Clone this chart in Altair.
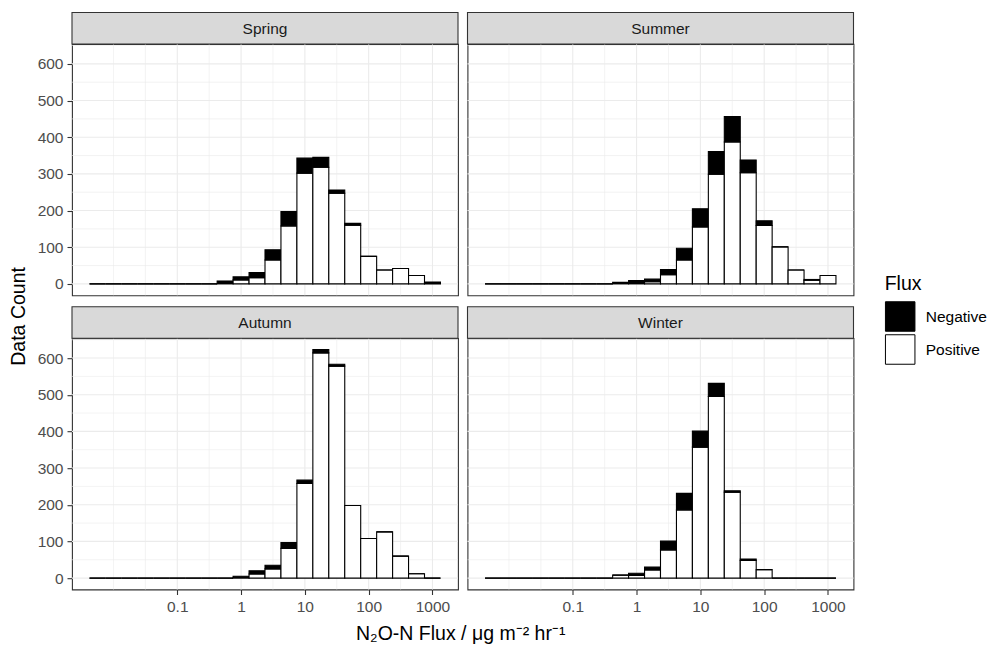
import altair as alt
import pandas as pd

# ---------------- data ----------------
seasons = ["Spring", "Summer", "Autumn", "Winter"]
flux_types = ["Negative", "Positive"]

# histogram bins: centres in log10(|flux|), bin width 0.25 decades
bin_centers_log10 = [-2.25, -2.0, -1.75, -1.5, -1.25, -1.0, -0.75, -0.5, -0.25, 0.0, 0.25,
                     0.5, 0.75, 1.0, 1.25, 1.5, 1.75, 2.0, 2.25, 2.5, 2.75, 3.0]
bin_width_log10 = 0.25

spring_pos = [0, 0, 0, 0, 0, 0, 0, 0, 1, 11, 17, 65, 158, 302, 318, 247, 160, 75, 38, 42, 23, 3]
spring_neg = [0, 0, 0, 0, 0, 0, 0, 0, 7, 8, 14, 28, 39, 41, 27, 9, 5, 0, 0, 0, 0, 2]
summer_pos = [0, 0, 0, 0, 0, 0, 0, 0, 1, 2, 6, 25, 65, 155, 299, 387, 303, 159, 101, 38, 10, 23]
summer_neg = [0, 0, 0, 0, 0, 0, 0, 0, 3, 7, 7, 14, 32, 50, 62, 69, 35, 13, 0, 0, 2, 0]
autumn_pos = [0, 0, 0, 0, 0, 0, 0, 0, 0, 1, 11, 25, 81, 258, 614, 578, 198, 108, 126, 60, 12, 0]
autumn_neg = [0, 0, 0, 0, 0, 0, 0, 0, 0, 4, 9, 10, 16, 9, 9, 5, 0, 0, 0, 0, 0, 0]
winter_pos = [0, 0, 0, 0, 0, 0, 0, 0, 8, 7, 22, 77, 186, 357, 495, 234, 48, 23, 0, 0, 0, 0]
winter_neg = [0, 0, 0, 0, 0, 0, 0, 0, 0, 6, 8, 24, 45, 44, 36, 4, 4, 0, 0, 0, 0, 0]

x_tick_values = [0.1, 1, 10, 100, 1000]
x_minor_grid = [0.01, 0.0316228, 0.316228, 3.16228, 31.6228, 316.228]
y_tick_values = [0, 100, 200, 300, 400, 500, 600]
y_minor_grid = [50, 150, 250, 350, 450, 550, 650]

x_title = "N\u2082O-N Flux / \u03bcg m\u207b\u00b2 hr\u207b\u00b9"
y_title = "Data Count"

# ---------------- layout constants ----------------
W = 386
H = 251.3
SH = 31.5
FONT = "Liberation Sans"
SMALL = 15.5
BIG = 19.5
OX, OY = 71.3, 43.5   # page position of the first panel's plot area

xscale = alt.Scale(type="log", domain=[10 ** -2.65, 10 ** 3.4], nice=False)
yscale = alt.Scale(domain=[-31.15, 654.15], nice=False, zero=False)

legend = alt.Legend(
    title="Flux", orient="none", legendX=884 - OX, legendY=274 - OY,
    symbolType="square", symbolSize=870, symbolStrokeColor="black",
    symbolStrokeWidth=1, labelFontSize=SMALL, titleFontSize=BIG,
    labelColor="black", titleColor="black", labelOffset=10, rowPadding=-3.5,
    titlePadding=7, padding=0, labelFont=FONT, titleFont=FONT, titleFontWeight="normal",
)
fill_scale = alt.Scale(domain=flux_types, range=["black", "white"])


def make_table(pos, neg):
    rows = []
    for c, p, n in zip(bin_centers_log10, pos, neg):
        lo = 10 ** (c - bin_width_log10 / 2)
        hi = 10 ** (c + bin_width_log10 / 2)
        rows.append({"x0": lo, "x1": hi, "y0": 0, "y1": p, "Flux": "Positive"})
        rows.append({"x0": lo, "x1": hi, "y0": p, "y1": p + n, "Flux": "Negative"})
    return pd.DataFrame(rows)


def panel(label, pos, neg, show_x, show_y, extra=None, anchor=False):
    xaxis = alt.Axis(values=x_tick_values, format="~g", title=None, grid=False,
                     tickSize=5, labelPadding=5) if show_x else None
    yaxis = alt.Axis(values=y_tick_values, title=None, grid=False,
                     tickSize=5, labelPadding=4) if show_y else None
    vmaj = alt.Chart(pd.DataFrame({"v": x_tick_values})).mark_rule(
        color="#EBEBEB", strokeWidth=1.1).encode(x=alt.X("v:Q", scale=xscale, axis=xaxis))
    vmin = alt.Chart(pd.DataFrame({"v": x_minor_grid})).mark_rule(
        color="#EBEBEB", strokeWidth=0.6).encode(x=alt.X("v:Q", scale=xscale, axis=xaxis))
    hmaj = alt.Chart(pd.DataFrame({"v": y_tick_values})).mark_rule(
        color="#EBEBEB", strokeWidth=1.1).encode(y=alt.Y("v:Q", scale=yscale, axis=yaxis))
    hmin = alt.Chart(pd.DataFrame({"v": y_minor_grid})).mark_rule(
        color="#EBEBEB", strokeWidth=0.6).encode(y=alt.Y("v:Q", scale=yscale, axis=yaxis))
    bars = alt.Chart(make_table(pos, neg)).mark_rect(stroke="black", strokeWidth=1.1).encode(
        x=alt.X("x0:Q", scale=xscale, axis=xaxis),
        x2="x1:Q",
        y=alt.Y("y0:Q", scale=yscale, axis=yaxis),
        y2="y1:Q",
        fill=alt.Fill("Flux:N", scale=fill_scale, legend=legend),
    )
    sdf = pd.DataFrame({"label": [label]})
    strip_box = alt.Chart(sdf).mark_rect(fill="#D9D9D9", stroke="#333333", strokeWidth=1.1).encode(
        x=alt.value(0), x2=alt.value(W), y=alt.value(-SH), y2=alt.value(0))
    strip_txt = alt.Chart(sdf).mark_text(fontSize=SMALL, color="#1A1A1A", font=FONT,
                                         baseline="middle").encode(
        text="label:N", x=alt.value(W / 2), y=alt.value(-SH / 2 + 0.5))
    layers = [vmin, vmaj, hmin, hmaj, bars, strip_box, strip_txt]
    if anchor:
        a = alt.Chart(sdf).mark_rule(strokeOpacity=0, strokeWidth=1).encode(
            x=alt.value(-OX + 0.5), x2=alt.value(-OX + 0.5),
            y=alt.value(-OY + 0.5), y2=alt.value(-OY + 0.5))
        layers.append(a)
    if extra:
        layers += extra
    return alt.layer(*layers).properties(width=W, height=H)


title_df = pd.DataFrame({"t": [x_title], "u": [y_title]})
xt = alt.Chart(title_df).mark_text(fontSize=BIG, color="black", font=FONT,
                                   align="center", baseline="middle").encode(
    text="t:N", x=alt.value(460 - OX), y=alt.value(633 - 336.8))
yt = alt.Chart(title_df).mark_text(fontSize=BIG, color="black", font=FONT, angle=270,
                                   align="center", baseline="middle").encode(
    text="u:N", x=alt.value(18.5 - OX), y=alt.value(315 - 336.8))

p_spring = panel(seasons[0], spring_pos, spring_neg, False, True, anchor=True)
p_summer = panel(seasons[1], summer_pos, summer_neg, False, False)
p_autumn = panel(seasons[2], autumn_pos, autumn_neg, True, True, extra=[xt, yt])
p_winter = panel(seasons[3], winter_pos, winter_neg, True, False)

chart = alt.concat(p_spring, p_summer, p_autumn, p_winter, columns=2,
                   spacing={"row": 10.7 + SH, "column": 9.5}, bounds="flush").resolve_scale(
    fill="shared").resolve_legend(fill="shared").properties(
    padding=0, background="white").configure(font=FONT).configure_view(
    stroke="#333333", strokeWidth=1.1, fill="white").configure_axis(
    labelColor="#4D4D4D", labelFontSize=SMALL, labelFont=FONT, tickColor="#333333",
    tickWidth=1.1, domain=False, grid=False)

chart.save("out.html", embed_options={"renderer": "svg", "actions": False})
